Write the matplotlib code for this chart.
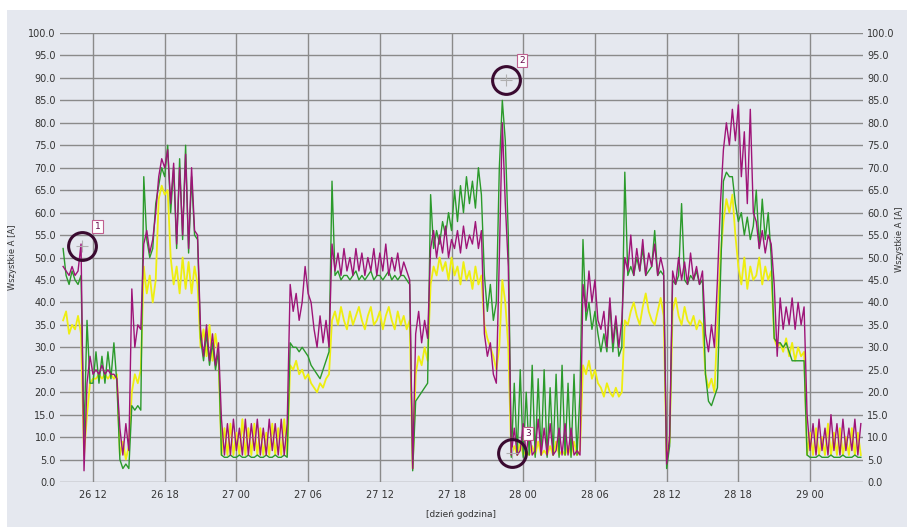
import numpy as np
import matplotlib
matplotlib.use("Agg")
import matplotlib.pyplot as plt
from matplotlib.patches import Rectangle

# current per phase [A], one value per 15 min, starting 26th ~09:30
magenta = [
    48, 47, 46, 48, 46, 47, 53,
    2.5, 22, 28,
    24, 25, 24, 26, 24, 25, 24, 24, 23,
    12, 6, 13, 7,
    43, 30, 35, 34,
    53, 56, 51, 54, 60,
    68, 72, 70, 74, 62, 71, 53, 70, 55, 73, 52, 70, 56, 55,
    34, 28, 35, 27, 33, 26, 31,
    14, 6, 13, 6, 14, 7, 12, 6, 14, 6, 13, 7, 14, 6, 12, 6, 14, 7, 13, 6, 14, 6, 13,
    44, 38, 42, 36, 40, 48, 42, 40, 34, 30, 37, 31, 36, 30,
    53, 47, 51, 46, 52, 47, 50, 46, 52, 47, 51, 46, 50, 47, 52, 46, 51, 47, 53, 46,
    50, 47, 51, 46, 49, 47, 45,
    3,
    33, 38, 31, 36, 32,
    52, 56, 50, 55, 51, 57, 50, 54, 52, 56, 51, 57, 52, 55, 53, 58, 52, 56,
    33, 28, 31, 24, 22,
    50, 80, 62, 48,
    6, 12, 6, 7, 13, 6, 12, 6, 7, 14, 6, 12, 6, 13, 6, 7, 12, 6, 13, 6, 12, 6, 7, 6,
    44, 38, 47, 40, 45, 36,
    34, 38, 30, 41, 31, 37, 30, 36,
    50, 47, 55, 46, 52, 47, 54, 46, 51, 48, 53, 46, 50, 47,
    4, 10,
    47, 44, 50, 45, 49, 44, 51, 45, 48, 44, 47,
    33, 29, 35, 30,
    45, 62,
    74, 80, 75, 83, 76, 84, 68, 78, 62, 83, 60,
    58, 52, 56, 51, 55, 53,
    44, 28, 41, 34, 39, 35, 41, 34, 40, 35, 39,
    15, 7, 13, 6, 14, 7, 12, 6, 15, 7, 13, 6, 14, 7, 12, 7, 14, 6, 13,
]

green = [
    52, 46, 44, 47, 45, 44, 46,
    10, 36, 22,
    22, 29, 22, 28, 22, 29, 23, 31, 22,
    5, 3, 4, 3,
    17, 16, 17, 16,
    68, 54, 50, 52, 62,
    66, 70, 68, 75, 60, 70, 52, 72, 54, 75, 51, 68, 55, 54,
    32, 27, 33, 26, 31, 25, 29,
    6, 5.5, 5.5, 6, 5.5, 5.5, 6, 5.5, 5.5, 6, 5.5, 5.5, 6, 5.5, 5.5, 6, 5.5, 5.5, 6, 5.5, 5.5, 6, 5.5,
    31, 30, 30, 29, 30, 29, 28, 26, 25, 24, 23, 25, 27, 29,
    67, 46, 47, 45, 46, 46, 45, 46, 47, 45, 46, 45, 46, 47, 45, 46, 46, 45, 46, 47,
    45, 46, 45, 46, 46, 45, 44,
    2.5,
    18, 19, 20, 21, 22,
    64, 52, 56, 53, 58, 55, 60, 56, 65, 58, 66, 60, 68, 62, 67, 61, 70, 64,
    46, 38, 44, 36, 40,
    70, 85, 76, 55,
    5.5, 22, 6, 25, 5.5, 20, 6, 26, 5.5, 23, 6, 25, 5.5, 21, 6, 24, 5.5, 26, 6, 22, 5.5, 24, 6, 20,
    54, 36, 40, 34, 38, 33,
    29, 33, 29, 40, 29, 36, 28, 30,
    69, 46, 48, 46, 50, 47, 52, 46, 47, 48, 56, 46, 47, 46,
    3, 8,
    45, 44, 46, 62, 45, 44, 46, 45, 47, 44, 45,
    24, 18, 17, 19,
    21, 45,
    67, 69, 68, 68, 62, 58, 60, 55, 59, 54, 57,
    65, 52, 63, 54, 60, 50,
    32, 31, 31, 30, 31, 29, 27, 27, 27, 27, 27,
    6, 5.5, 5.5, 5.5, 6, 5.5, 5.5, 5.5, 6, 5.5, 5.5, 5.5, 6, 5.5, 5.5, 5.5, 6, 5.5, 5.5,
]

yellow = [
    36, 38, 33, 35, 34, 37, 33,
    6, 15, 22,
    23, 23, 24, 23, 24, 23, 24, 23, 24,
    6, 9, 5, 8,
    20, 24, 22, 25,
    48, 42, 46, 40, 45,
    63, 66, 64, 65, 50, 44, 48, 42, 50, 43, 49, 42, 48, 44,
    30, 34, 28, 35, 27, 33, 28,
    6, 12, 6, 13, 6, 11, 6, 14, 6, 12, 6, 13, 6, 12, 6, 11, 6, 13, 6, 12, 6, 14, 6,
    26, 25, 27, 24, 25, 23, 24, 22, 21, 20, 22, 21, 23, 24,
    36, 38, 35, 39, 36, 34, 38, 35, 37, 39, 36, 34, 37, 39, 35, 36, 38, 34, 37, 39,
    36, 34, 38, 35, 37, 34, 36,
    3,
    24, 28, 26, 30, 27,
    44, 48, 46, 50, 47, 49, 45, 50, 46, 48, 44, 49, 45, 47, 43, 48, 44, 46,
    35, 32, 30, 28, 25,
    30, 45, 40, 30,
    6, 8, 6, 9, 6, 7, 6, 8, 6, 9, 6, 7, 6, 8, 6, 9, 6, 7, 6, 8, 6, 9, 6, 7,
    26, 24, 27, 23, 25, 22,
    21, 19, 22, 20, 19, 21, 19, 20,
    36, 35, 38, 40, 37, 35, 39, 42, 38, 36, 35, 38, 41, 37,
    5, 9,
    38, 41, 37, 35, 39, 36, 35, 37, 34, 36, 35,
    24, 21, 23, 20,
    35, 50,
    58, 63, 60, 64, 55, 48, 44, 50, 43, 48, 45,
    46, 50, 44, 48, 45, 47,
    32, 30, 31, 29, 32, 28, 31, 27, 30, 28, 29,
    6, 11, 6, 12, 6, 10, 6, 13, 6, 11, 6, 12, 6, 10, 6, 12, 6, 11, 6,
]

tick_hours = [12, 18, 24, 30, 36, 42, 48, 54, 60, 66, 72]
tick_labels = ["26 12", "26 18", "27 00", "27 06", "27 12", "27 18",
               "28 00", "28 06", "28 12", "28 18", "29 00"]

# marked points: (hour, value, label)
marks = [(11.1, 52.6, "1"), (46.6, 89.5, "2"), (47.1, 6.5, "3")]


def hours_for(series):
    return 9.5 + 0.25 * np.arange(len(series))


def main():
    bg = "#e5e8ef"
    fig = plt.figure(figsize=(9.07, 5.32), dpi=100, facecolor="white")
    fig.patches.append(Rectangle((7 / 907, 5 / 532), 900 / 907, 517 / 532,
                                 transform=fig.transFigure, facecolor=bg,
                                 edgecolor="none", zorder=-10))

    ax = fig.add_axes([60 / 907, 50 / 532, 803 / 907, 449 / 532])
    ax.set_facecolor(bg)

    ax.plot(hours_for(yellow), yellow, color="#eeee10", lw=1.3, zorder=3)
    ax.plot(hours_for(green), green, color="#2b9a2b", lw=1.0, zorder=4)
    ax.plot(hours_for(magenta), magenta, color="#9e1478", lw=1.0, zorder=5)

    ax.set_xlim(9.24, 76.43)
    ax.set_ylim(0, 100)
    ax.set_yticks(np.arange(0, 101, 5))
    ax.set_yticklabels(["%.1f" % v for v in np.arange(0, 101, 5)])
    ax.set_xticks(tick_hours)
    ax.set_xticklabels(tick_labels)
    ax.tick_params(length=0, labelsize=7, colors="#333333", pad=4)
    ax.tick_params(axis="y", labelright=True, pad=3)
    ax.tick_params(axis="x", pad=6)
    ax.grid(True, color="#8a8a8a", lw=1.0)
    ax.set_axisbelow(True)
    for s in ax.spines.values():
        s.set_visible(False)

    ax.set_xlabel("[dzień godzina]", fontsize=6.5, color="#333333", labelpad=7)
    ax.set_ylabel("Wszystkie A [A]", fontsize=6, color="#333333", labelpad=8)
    fig.text(899 / 907, 0.55, "Wszystkie A [A]", rotation=90, fontsize=6,
             color="#333333", ha="center", va="center")

    for hx, vy, lab in marks:
        ax.plot(hx, vy, "+", color="#b0b0b0", ms=8, mew=0.8, zorder=6)
        ax.plot(hx, vy, "o", mfc="none", mec="#3a0a30", ms=20, mew=2.2, zorder=7)
        ax.annotate(lab, (hx, vy), xytext=(11, 14), textcoords="offset points",
                    fontsize=6.5, color="#6a1050", ha="center", va="center",
                    bbox=dict(boxstyle="square,pad=0.25", fc="white",
                              ec="#c06090", lw=0.8), zorder=8)

    fig.savefig("out.png", dpi=100, facecolor="white")


if __name__ == "__main__":
    main()
